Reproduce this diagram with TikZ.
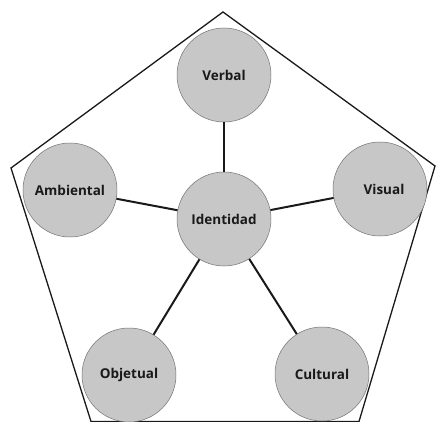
\documentclass[tikz,border=0pt]{standalone}
\usepackage{fontspec}
\setmainfont{Open Sans}
\begin{document}
\begin{tikzpicture}[x=1pt,y=-1pt,
  bubble/.style={circle,draw=black!55,line width=0.5pt,fill=black!22,minimum size=94pt,inner sep=0pt,font=\bfseries\fontsize{13.5}{15}\selectfont,text=black!90},
  link/.style={line width=2pt,black!90},
  frame/.style={line width=1.3pt,black!90}]
\useasboundingbox (0,0) rectangle (436,422);
\begin{scope}
\clip (0,0) rectangle (436,422);
\draw[frame] (223,12) coordinate (pt) -- (435,166) coordinate (pr) -- (359,421.5) coordinate (pbr) -- (91,421.5) coordinate (pbl) -- (11,168) coordinate (pl) -- cycle;
\node[bubble] (ver) at (224,75) {Verbal};
\node[bubble] (amb) at (70,190) {Ambiental};
\node[bubble] (vis) at (380,189) {\hspace*{8pt}Visual};
\node[bubble] (obj) at (129,375) {Objetual};
\node[bubble] (cul) at (322,374) {Cultural};
\node[bubble] (ide) at (224,219) {Identidad};
\draw[link] (ide) -- (ver);
\draw[link] (ide) -- (amb);
\draw[link] (ide) -- (vis);
\draw[link] (ide) -- (obj);
\draw[link] (ide) -- (cul);
\end{scope}
\end{tikzpicture}
\end{document}
